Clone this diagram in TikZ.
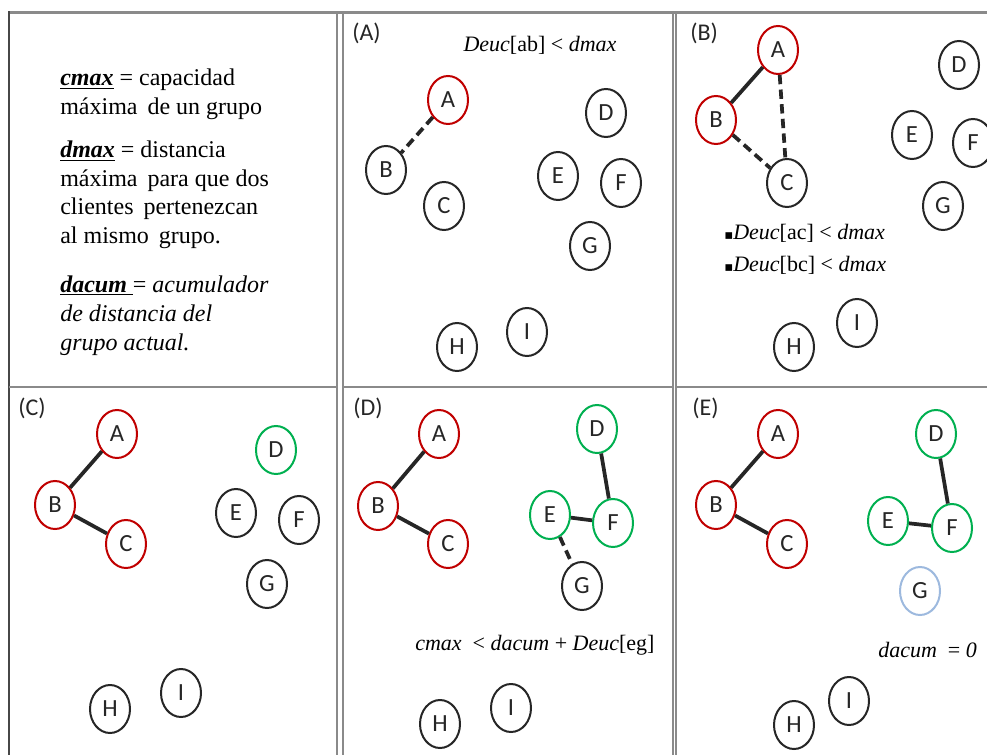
\documentclass[tikz,border=0pt]{standalone}
\usepackage{fontspec}
\setmainfont{Liberation Serif}
\newfontfamily\lblfont{Carlito}
\newfontfamily\symfont{DejaVu Sans}
\usetikzlibrary{shapes.geometric}

\definecolor{grpred}{HTML}{C00000}
\definecolor{grpgreen}{HTML}{00B050}
\definecolor{grpblue}{HTML}{9DB9DE}
\definecolor{inkgray}{HTML}{262626}
\definecolor{rulegray}{HTML}{8A8A8A}

% thick underline used for the variable names in the legend
\newcommand\undl[1]{\setbox0\hbox{#1}\rlap{\rule[-2.6pt]{\wd0}{1.3pt}}\box0\relax}
\newcommand\sqbullet{{\symfont\fontsize{10}{10}\selectfont ▪}}

\tikzset{
  client/.style={ellipse, draw=inkgray, line width=1.5pt,
    minimum width=30pt, minimum height=36pt, inner sep=0pt,
    text=inkgray, font=\lblfont\fontsize{18.5}{18.5}\selectfont},
  ingroup/.style={draw=grpred},
  nextgroup/.style={draw=grpgreen},
  released/.style={draw=grpblue},
  link/.style={draw=inkgray, line width=2.8pt},
  trial/.style={link, dash pattern=on 7pt off 4pt},
  tag/.style={font=\lblfont\fontsize{18}{18}\selectfont, anchor=west,
    inner sep=0pt, text=inkgray},
  formula/.style={font=\fontsize{16.5}{18}\selectfont, inner sep=0pt},
  legend/.style={font=\fontsize{18}{18}\selectfont, anchor=base west, inner sep=0pt},
  frame/.style={draw=rulegray, line width=1.3pt},
}

\begin{document}
\begin{tikzpicture}[x=0.75pt,y=-0.75pt]
\useasboundingbox (0,0) rectangle (987,755);
\clip (0,0) rectangle (987,755);

% table grid
\draw[frame, line width=2pt] (8,12.5) -- (987,12.5);
\draw[frame, draw=inkgray!85, line width=1.8pt] (9,11.5) -- (9,755);
\draw[frame] (337,12.5) -- (337,755);
\draw[frame] (343,12.5) -- (343,755);
\draw[frame] (672.7,12.5) -- (672.7,755);
\draw[frame] (676,12.5) -- (676,755);
\draw[frame] (9,387) -- (337,387);
\draw[frame] (343,387) -- (672.7,387);
\draw[frame] (676,387) -- (987,387);

% legend
\node[legend] (l1) at (60,86) {\undl{\textbf{\textit{cmax}}} = capacidad};
\node[legend] (l2) at (60,115) {máxima\, de un grupo};
\node[legend] (l3) at (60,158) {\undl{\textbf{\textit{dmax}}} = distancia};
\node[legend] (l4) at (60,187) {máxima\, para que dos};
\node[legend] (l5) at (60,215) {clientes\, pertenezcan};
\node[legend] (l6) at (60,244) {al mismo\, grupo.};
\node[legend] (l7) at (60,292) {\undl{\textbf{\textit{dacum}}\ }= \textit{acumulador}};
\node[legend] (l8) at (60,321) {\textit{de distancia del}};
\node[legend] (l9) at (60,350) {\textit{grupo actual.}};

% (A)
\node[tag] (tA) at (352,33) {(A)};
\node[formula] (fA) at (540,45) {\textit{Deuc}[ab] < \textit{dmax}};
\node[client, ingroup] (aA) at (448,100) {A};
\node[client] (aB) at (386,170) {B};
\node[client] (aC) at (444,206) {C};
\node[client] (aD) at (606,113) {D};
\node[client] (aE) at (558,176) {E};
\node[client] (aF) at (621,183) {F};
\node[client] (aG) at (590,246) {G};
\node[client] (aH) at (457,347) {H};
\node[client] (aI) at (527,332) {I};
\draw[trial] (aA) -- (aB);

% (B)
\node[tag] (tB) at (690,33) {(B)};
\node[client, ingroup] (bA) at (778,50) {A};
\node[client, ingroup] (bB) at (716,120) {B};
\node[client] (bC) at (787,183) {C};
\node[client] (bD) at (959,65) {D};
\node[client] (bE) at (912,135) {E};
\node[client] (bF) at (973,143) {F};
\node[client] (bG) at (943,206) {G};
\node[client] (bH) at (794,347) {H};
\node[client] (bI) at (857,323) {I};
\draw[link] (bA) -- (bB);
\draw[trial] (bA) -- (bC);
\draw[trial] (bB) -- (bC);
\node[formula, anchor=west] (fB1) at (724,233) {\sqbullet\textit{Deuc}[ac] < \textit{dmax}};
\node[formula, anchor=west] (fB2) at (724,265) {\sqbullet\textit{Deuc}[bc] < \textit{dmax}};

% (C)
\node[tag] (tC) at (18,408) {(C)};
\node[client, ingroup] (cA) at (117,434) {A};
\node[client, ingroup] (cB) at (55,505) {B};
\node[client, ingroup] (cC) at (126,544) {C};
\node[client, nextgroup] (cD) at (276,450) {D};
\node[client] (cE) at (236,513) {E};
\node[client] (cF) at (299,520) {F};
\node[client] (cG) at (267,584) {G};
\node[client] (cH) at (110,709) {H};
\node[client] (cI) at (181,693) {I};
\draw[link] (cA) -- (cB);
\draw[link] (cB) -- (cC);

% (D)
\node[tag] (tD) at (353,408) {(D)};
\node[client, ingroup] (dA) at (439,434) {A};
\node[client, ingroup] (dB) at (378,506) {B};
\node[client, ingroup] (dC) at (448,544) {C};
\node[client, nextgroup] (dD) at (597,429) {D};
\node[client, nextgroup] (dE) at (550,515) {E};
\node[client, nextgroup] (dF) at (613,523) {F};
\node[client] (dG) at (582,586) {G};
\node[client] (dH) at (440,724) {H};
\node[client] (dI) at (511,708) {I};
\draw[link] (dA) -- (dB);
\draw[link] (dB) -- (dC);
\draw[link] (dD) -- (dF);
\draw[link] (dE) -- (dF);
\draw[trial] (dE) -- (dG);
\node[formula, anchor=west] (fD) at (415,645) {\textit{cmax}\ \ < \textit{dacum} + \textit{Deuc}[eg]};

% (E)
\node[tag] (tE) at (692,408) {(E)};
\node[client, ingroup] (eA) at (778,434) {A};
\node[client, ingroup] (eB) at (716,505) {B};
\node[client, ingroup] (eC) at (787,544) {C};
\node[client, nextgroup] (eD) at (936,434) {D};
\node[client, nextgroup] (eE) at (888,521) {E};
\node[client, nextgroup] (eF) at (952,528) {F};
\node[client, released] (eG) at (920,591) {G};
\node[client] (eH) at (794,725) {H};
\node[client] (eI) at (849,701) {I};
\draw[link] (eA) -- (eB);
\draw[link] (eB) -- (eC);
\draw[link] (eD) -- (eF);
\draw[link] (eE) -- (eF);
\node[formula, anchor=west] (fE) at (878,650) {\textit{dacum}\ \ = \textit{0}};
\end{tikzpicture}
\end{document}
